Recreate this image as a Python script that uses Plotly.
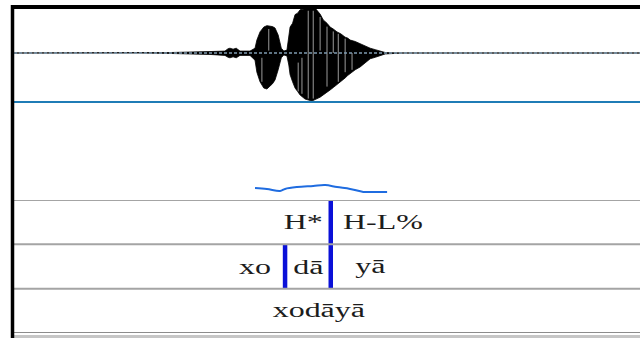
import plotly.graph_objects as go

W, H = 640, 338

# ---- sound: amplitude envelope (normalised), time in seconds ----
wave_t = [0.0, 0.20, 0.25, 0.313, 0.337, 0.342, 0.345, 0.350, 0.355, 0.361, 0.377, 0.385,
          0.388, 0.393, 0.399, 0.404, 0.409, 0.413, 0.417, 0.422, 0.427, 0.431, 0.436, 0.439,
          0.441, 0.445, 0.449, 0.453, 0.457, 0.461, 0.465, 0.476, 0.482, 0.486, 0.489, 0.492,
          0.494, 0.500, 0.505, 0.510, 0.516, 0.522, 0.529, 0.533, 0.537, 0.545, 0.553, 0.561,
          0.569, 0.577, 0.585, 0.593, 0.62, 1.0]
wave_hi = [0.0, 0.0, 0.01, 0.03, 0.04, 0.09, 0.10, 0.08, 0.10, 0.04, 0.04, 0.10,
           0.27, 0.44, 0.54, 0.57, 0.56, 0.55, 0.52, 0.375, 0.10, 0.04, 0.06, 0.30,
           0.54, 0.62, 0.80, 0.83, 0.90, 0.91, 0.92, 0.94, 0.92, 0.86, 0.81, 0.74,
           0.69, 0.62, 0.54, 0.50, 0.44, 0.40, 0.33, 0.31, 0.27, 0.24, 0.19, 0.15,
           0.10, 0.07, 0.04, 0.01, 0.0, 0.0]
wave_lo = [0.0, 0.0, -0.01, -0.03, -0.05, -0.09, -0.10, -0.08, -0.10, -0.05, -0.05, -0.15,
           -0.40, -0.60, -0.73, -0.75, -0.69, -0.64, -0.56, -0.35, -0.10, -0.04, -0.06, -0.25,
           -0.45, -0.60, -0.73, -0.80, -0.875, -0.92, -0.96, -1.0, -0.96, -0.94, -0.92, -0.90,
           -0.88, -0.82, -0.77, -0.72, -0.67, -0.60, -0.52, -0.47, -0.42, -0.35, -0.29, -0.20,
           -0.12, -0.09, -0.06, -0.02, 0.0, 0.0]

# sample columns that render lighter inside the waveform
stripe_t = [0.396, 0.407, 0.454, 0.460, 0.470, 0.478, 0.489, 0.500, 0.510, 0.518, 0.529, 0.540]
stripe_top = [-0.10, 0.50, -0.20, -0.10, 0.88, 0.88, 0.75, 0.55, 0.45, 0.40, 0.30, 0.0]
stripe_bot = [-0.60, 0.05, -0.80, -0.85, -0.95, -0.95, 0.05, -0.70, 0.0, -0.60, -0.40, -0.35]

# ---- pitch contour (Hz) ----
pitch_t = [0.385, 0.404, 0.425, 0.433, 0.452, 0.478, 0.497, 0.516, 0.537, 0.558, 0.573, 0.596]
pitch_hz = [127, 123, 114, 123, 131, 136, 140, 131, 123, 110, 110, 110]

# ---- TextGrid tiers ----
tone_labels = ["H*", "H-L%"]
tone_times = [0.462, 0.589]
tone_bounds = [0.506]

syll_labels = ["xo", "dā", "yā"]
syll_times = [0.385, 0.470, 0.570]
syll_bounds = [0.433, 0.506]

word_labels = ["xodāyā"]
word_times = [0.487]


def py(px):
    """pixel row -> paper fraction"""
    return 1 - px / H


fig = go.Figure()

# waveform envelope as a filled outline
fig.add_trace(go.Scatter(
    x=wave_t + wave_t[::-1], y=wave_hi + wave_lo[::-1],
    fill="toself", fillcolor="black", mode="lines",
    line=dict(color="black", width=0.8), yaxis="y", hoverinfo="skip"))

sx, sy = [], []
for t, a, b in zip(stripe_t, stripe_top, stripe_bot):
    sx += [t, t, None]
    sy += [a, b, None]
fig.add_trace(go.Scatter(x=sx, y=sy, mode="lines",
                         line=dict(color="#9a9a9a", width=1.0), yaxis="y", hoverinfo="skip"))

# zero line of the sound
fig.add_trace(go.Scatter(x=[0, 1], y=[0, 0], mode="lines",
                         line=dict(color="#7f9bb0", width=1.3, dash="3px,2px"),
                         yaxis="y", hoverinfo="skip"))

# pitch
fig.add_trace(go.Scatter(x=pitch_t, y=pitch_hz, mode="lines", line_shape="spline",
                         line=dict(color="#1f6ce0", width=2), yaxis="y2", hoverinfo="skip"))

# tier boundaries
bx, by = [], []
for t in tone_bounds:
    bx += [t, t, None]
    by += [3, 2, None]
for t in syll_bounds:
    bx += [t, t, None]
    by += [2, 1, None]
fig.add_trace(go.Scatter(x=bx, y=by, mode="lines",
                         line=dict(color="#0a10d8", width=4.5), yaxis="y3", hoverinfo="skip"))

font = dict(family="Liberation Serif, Times New Roman, serif", size=20, color="#1c1c1c")
annotations = []
for labels, times, row in [(tone_labels, tone_times, 2.5),
                           (syll_labels, syll_times, 1.5),
                           (word_labels, word_times, 0.5)]:
    for lab, t in zip(labels, times):
        annotations.append(dict(x=t, y=row, xref="x", yref="y3", text=lab,
                                showarrow=False, font=font,
                                xanchor="center", yanchor="middle"))

shapes = []
x0 = 14 / W
# tier separators
for row in [3, 2, 1]:
    shapes.append(dict(type="line", xref="paper", yref="y3", x0=x0, x1=1, y0=row, y1=row,
                       line=dict(color="#a4a4a4", width=2)))
shapes.append(dict(type="line", xref="paper", yref="y3", x0=x0, x1=1, y0=0, y1=0,
                   line=dict(color="#8c8c8c", width=2)))
shapes.append(dict(type="rect", xref="paper", yref="paper", x0=x0, x1=1, y0=0, y1=py(335),
                   line=dict(width=0), fillcolor="#c6c6c6"))
# sound / pitch separator
shapes.append(dict(type="line", xref="paper", yref="paper", x0=x0, x1=1, y0=py(102), y1=py(102),
                   line=dict(color="#1f7cb6", width=2)))
# frame
shapes.append(dict(type="line", xref="paper", yref="paper", x0=12.5 / W, x1=12.5 / W,
                   y0=0, y1=py(5), line=dict(color="black", width=3.5)))
shapes.append(dict(type="line", xref="paper", yref="paper", x0=11 / W, x1=1,
                   y0=py(7), y1=py(7), line=dict(color="black", width=4)))

hidden = dict(visible=False, showgrid=False, zeroline=False, fixedrange=True)
fig.update_layout(
    width=W, height=H, margin=dict(l=0, r=0, t=0, b=0),
    paper_bgcolor="white", plot_bgcolor="rgba(0,0,0,0)", showlegend=False,
    xaxis=dict(domain=[x0, 1], range=[0, 1], **hidden),
    yaxis=dict(domain=[py(101), py(5)], range=[-1, 1], **hidden),
    yaxis2=dict(domain=[py(200), py(102)], range=[75, 500], **hidden),
    yaxis3=dict(domain=[py(333), py(200)], range=[0, 3], **hidden),
    annotations=annotations, shapes=shapes,
)

# the labels are set in a horizontally widened serif
post = """
var gd = document.getElementById('{plot_id}');
gd.querySelectorAll('.annotation-text').forEach(function(el){
  var b = el.getBBox();
  var cx = b.x + b.width / 2;
  var tr = el.getAttribute('transform') || '';
  el.setAttribute('transform', tr + ' translate(' + cx + ',0) scale(1.6,1) translate(' + (-cx) + ',0)');
});
"""
fig.write_html("out.html", post_script=post, config={"staticPlot": True})
